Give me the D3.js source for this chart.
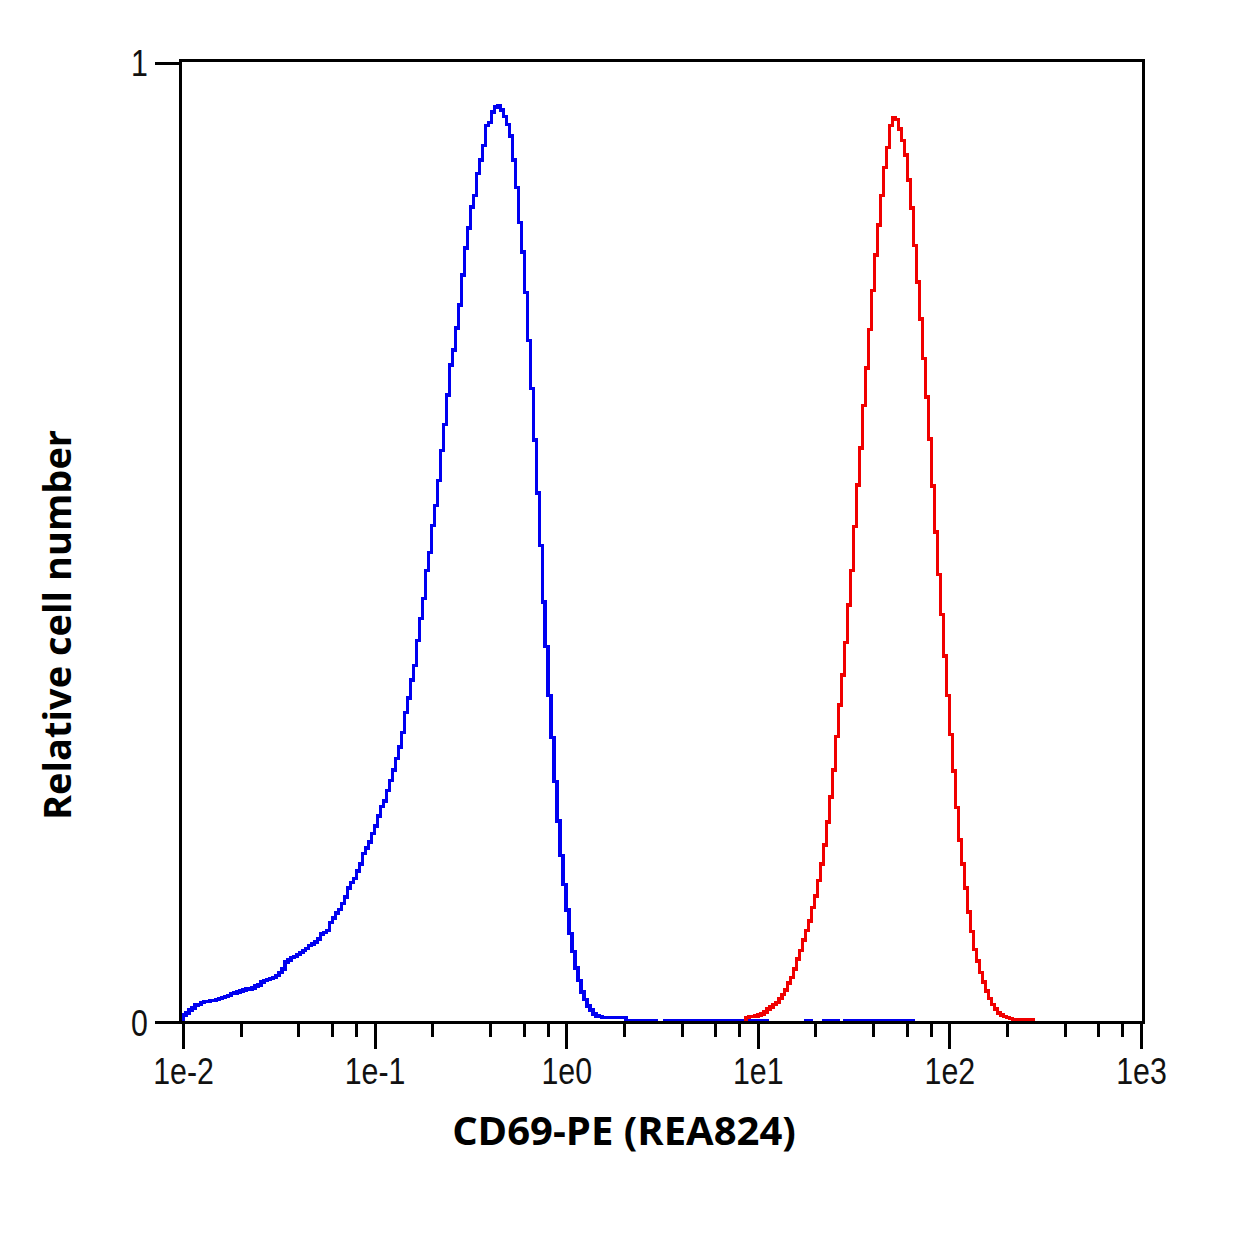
<!DOCTYPE html>
<html>
<head>
<meta charset="utf-8">
<script src="https://cdn.jsdelivr.net/npm/d3@7"></script>
<style>
  body { margin: 0; background: #ffffff; }
</style>
</head>
<body>
<div id="chart"></div>
<script>
// Histogram bins: 64 per decade, first bin starts at 1e-2
var binStart = 0.01;
var binsPerDecade = 64;

// Relative cell number per bin (blue: control, red: CD69-PE stained)
var blueStartBin = 0;
var blueCounts = [
    0.008, 0.010, 0.013, 0.015, 0.018, 0.019, 0.021, 0.022, 0.022, 0.023,
    0.023, 0.024, 0.025, 0.026, 0.027, 0.028, 0.030, 0.031, 0.032, 0.033,
    0.034, 0.035, 0.035, 0.036, 0.038, 0.039, 0.042, 0.044, 0.045, 0.046,
    0.047, 0.049, 0.052, 0.056, 0.063, 0.065, 0.068, 0.069, 0.071, 0.073,
    0.075, 0.077, 0.080, 0.082, 0.084, 0.087, 0.092, 0.094, 0.096, 0.104,
    0.109, 0.114, 0.118, 0.124, 0.131, 0.140, 0.146, 0.150, 0.158, 0.165,
    0.176, 0.182, 0.188, 0.197, 0.205, 0.215, 0.225, 0.231, 0.242, 0.252,
    0.263, 0.275, 0.287, 0.302, 0.323, 0.338, 0.357, 0.372, 0.398, 0.421,
    0.442, 0.471, 0.490, 0.518, 0.539, 0.565, 0.596, 0.623, 0.654, 0.685,
    0.701, 0.724, 0.748, 0.779, 0.807, 0.828, 0.850, 0.862, 0.885, 0.899,
    0.914, 0.935, 0.938, 0.949, 0.954, 0.955, 0.951, 0.944, 0.936, 0.924,
    0.899, 0.870, 0.834, 0.803, 0.761, 0.711, 0.661, 0.607, 0.552, 0.497,
    0.438, 0.392, 0.341, 0.297, 0.251, 0.210, 0.174, 0.144, 0.117, 0.093,
    0.074, 0.057, 0.044, 0.032, 0.024, 0.017, 0.013, 0.009, 0.007, 0.006,
    0.005, 0.005, 0.005, 0.005, 0.005, 0.005, 0.005, 0.005,
    0.002, 0.002, 0.002, 0.002, 0.002, 0.002, 0.002, 0.002, 0.002, 0.002,
    0, 0, 0,
    0.002, 0.002, 0.002, 0.002, 0.002, 0.002, 0.002, 0.002, 0.002, 0.002,
    0.002, 0.002, 0.002, 0.002, 0.002, 0.002, 0.002, 0.002, 0.002, 0.002,
    0.002, 0.002, 0.002, 0.002, 0.002, 0.002, 0.002, 0.002, 0.002, 0.002,
    0.002, 0.002, 0.002, 0.002,
    0, 0, 0, 0, 0, 0, 0, 0, 0, 0, 0, 0, 0,
    0.002, 0.002,
    0, 0, 0, 0,
    0.002, 0.002, 0.002, 0.002, 0.002,
    0, 0,
    0.002, 0.002, 0.002, 0.002, 0.002, 0.002, 0.002, 0.002, 0.002, 0.002,
    0.002, 0.002, 0.002, 0.002, 0.002, 0.002, 0.002, 0.002, 0.002, 0.002,
    0.002, 0.002, 0.002
];

var redStartBin = 188;
var redCounts = [
    0.005, 0.006, 0.006, 0.007, 0.008, 0.009, 0.011, 0.014, 0.016, 0.019,
    0.021, 0.025, 0.029, 0.034, 0.041, 0.047, 0.056, 0.066, 0.075, 0.086,
    0.096, 0.106, 0.120, 0.132, 0.148, 0.165, 0.185, 0.209, 0.235, 0.263,
    0.298, 0.331, 0.362, 0.396, 0.435, 0.471, 0.517, 0.560, 0.599, 0.643,
    0.682, 0.722, 0.763, 0.800, 0.831, 0.862, 0.891, 0.912, 0.935, 0.943,
    0.941, 0.931, 0.919, 0.904, 0.878, 0.849, 0.810, 0.772, 0.733, 0.692,
    0.652, 0.608, 0.559, 0.511, 0.467, 0.425, 0.382, 0.341, 0.300, 0.262,
    0.224, 0.190, 0.165, 0.140, 0.115, 0.095, 0.076, 0.064, 0.052, 0.042,
    0.033, 0.025, 0.019, 0.014, 0.010, 0.008, 0.006, 0.005, 0.004, 0.003,
    0.003, 0.003, 0.003, 0.003, 0.003, 0.003
];

// Axis ticks and labels
var decadeTicks = [0.01, 0.1, 1, 10, 100, 1000];
var decadeLabels = ["1e-2", "1e-1", "1e0", "1e1", "1e2", "1e3"];
var minorMultipliers = [2, 4, 6, 8];
var yTicks = [0, 1];
var yTickLabels = ["0", "1"];
var xTitle = "CD69-PE (REA824)";
var yTitle = "Relative cell number";

var width = 1250;
var height = 1250;
var frame = { left: 180.5, top: 60.5, right: 1143, bottom: 1022.5 };

var x = d3.scaleLog([0.01, 1000], [183, 1141]);
var y = d3.scaleLinear([0, 1], [1022.5, 63]);

var svg = d3.select("#chart")
    .append("svg")
    .attr("width", width)
    .attr("height", height)
    .style("background", "#ffffff");

function binEdge(i) {
    return binStart * Math.pow(10, i / binsPerDecade);
}

// Build the outline of a histogram as [edge, value] pairs
function histPoints(start, counts) {
    var pts = [[binEdge(start), 0]];
    counts.forEach(function (c, k) {
        pts.push([binEdge(start + k), c]);
    });
    var end = binEdge(start + counts.length);
    pts.push([end, counts[counts.length - 1]]);
    pts.push([end, 0]);
    return pts;
}

var line = d3.line()
    .x(d => x(d[0]))
    .y(d => y(d[1]))
    .curve(d3.curveStepAfter);

var series = [
    { counts: blueCounts, start: blueStartBin, colour: "#0000f0" },
    { counts: redCounts, start: redStartBin, colour: "#f00000" }
];

svg.append("g")
    .selectAll("path")
    .data(series)
    .join("path")
    .attr("d", d => line(histPoints(d.start, d.counts)))
    .attr("fill", "none")
    .attr("stroke", d => d.colour)
    .attr("stroke-width", 3.5)
    .attr("shape-rendering", "crispEdges");

// Plot frame
svg.append("rect")
    .attr("x", frame.left)
    .attr("y", frame.top)
    .attr("width", frame.right - frame.left)
    .attr("height", frame.bottom - frame.top)
    .attr("fill", "none")
    .attr("stroke", "#000")
    .attr("stroke-width", 3)
    .attr("shape-rendering", "crispEdges");

// Minor ticks (2, 4, 6, 8 of every decade)
var minorValues = [];
decadeTicks.slice(0, -1).forEach(function (d) {
    minorMultipliers.forEach(function (m) { minorValues.push(d * m); });
});

svg.append("g")
    .attr("transform", `translate(0, ${frame.bottom})`)
    .call(d3.axisBottom(x).tickValues(minorValues).tickSize(14).tickFormat(""))
    .call(g => g.select(".domain").remove())
    .call(g => g.selectAll("line").attr("stroke", "#000").attr("stroke-width", 3).attr("shape-rendering", "crispEdges"));

// Decade ticks with labels
svg.append("g")
    .attr("transform", `translate(0, ${frame.bottom})`)
    .call(d3.axisBottom(x)
        .tickValues(decadeTicks)
        .tickSize(26)
        .tickPadding(9)
        .tickFormat(d => decadeLabels[decadeTicks.indexOf(d)]))
    .call(g => g.select(".domain").remove())
    .call(g => g.selectAll("line").attr("stroke", "#000").attr("stroke-width", 3).attr("shape-rendering", "crispEdges"))
    .call(g => g.selectAll("text")
        .attr("fill", "#111")
        .attr("font-family", "'Liberation Sans', Arial, sans-serif")
        .attr("font-size", 37)
        .attr("transform", "scale(0.82,1)"));

// Y ticks: only 0 and 1
var yAxis = svg.append("g");
yAxis.selectAll("line")
    .data(yTicks)
    .join("line")
    .attr("x1", 155)
    .attr("x2", frame.left)
    .attr("y1", d => y(d))
    .attr("y2", d => y(d))
    .attr("stroke", "#000")
    .attr("stroke-width", 3)
    .attr("shape-rendering", "crispEdges");

yAxis.selectAll("g")
    .data(yTicks)
    .join("g")
    .attr("transform", d => `translate(148, ${y(d)})`)
    .append("text")
    .attr("transform", "scale(0.82,1)")
    .attr("text-anchor", "end")
    .attr("dy", "0.36em")
    .attr("fill", "#111")
    .attr("font-family", "'Liberation Sans', Arial, sans-serif")
    .attr("font-size", 37)
    .text((d, i) => yTickLabels[i]);

// Axis titles
svg.append("text")
    .attr("x", 624)
    .attr("y", 1145)
    .attr("text-anchor", "middle")
    .attr("font-family", "'Open Sans', sans-serif")
    .attr("font-weight", "bold")
    .attr("font-size", 40)
    .attr("fill", "#000")
    .text(xTitle);

svg.append("text")
    .attr("transform", "translate(71, 625) rotate(-90)")
    .attr("text-anchor", "middle")
    .attr("font-family", "'Open Sans', sans-serif")
    .attr("font-weight", "bold")
    .attr("font-size", 38)
    .attr("fill", "#000")
    .text(yTitle);
</script>
</body>
</html>
